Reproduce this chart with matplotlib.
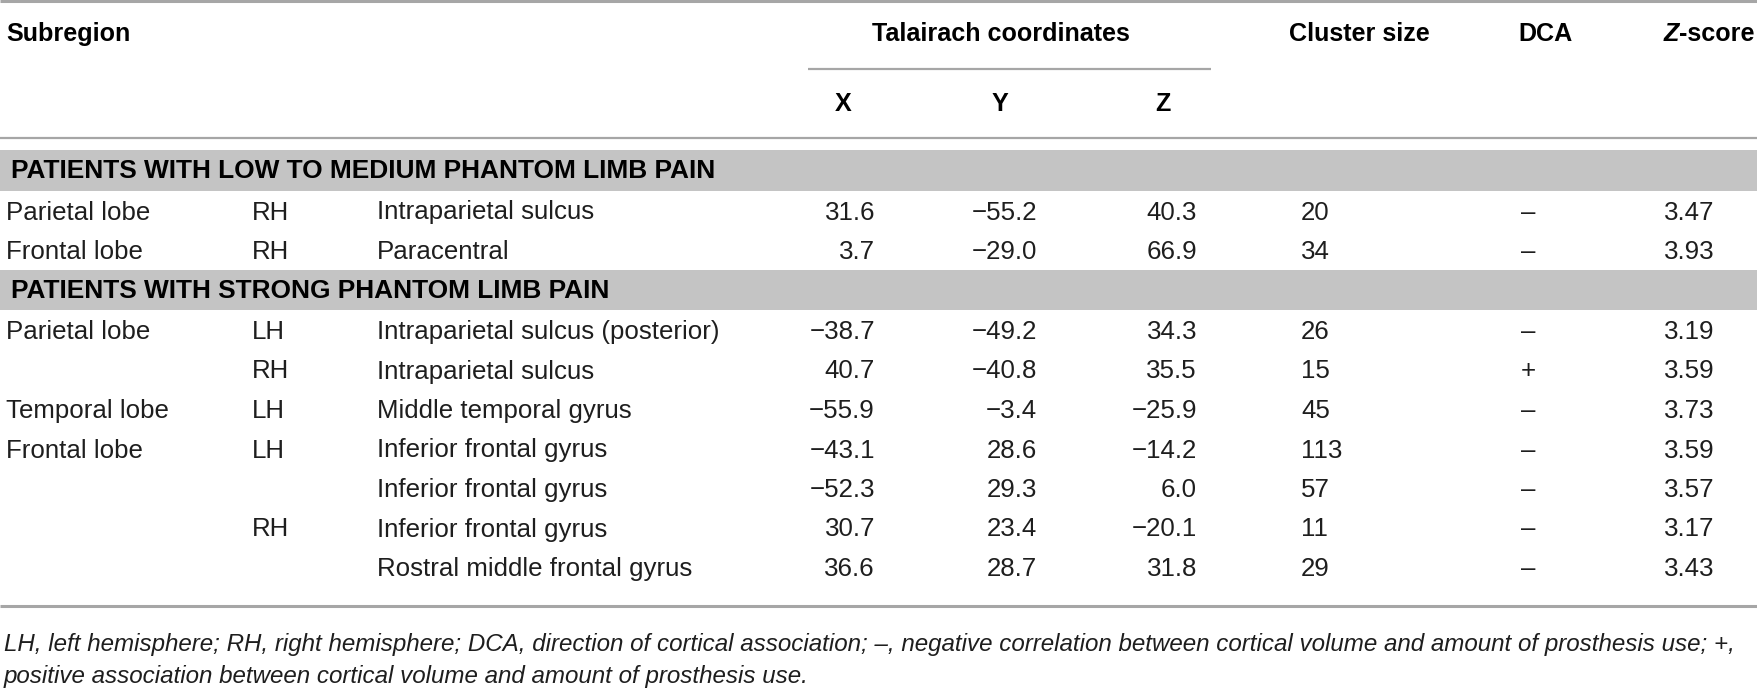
import matplotlib
matplotlib.use('Agg')
import matplotlib.pyplot as plt
from matplotlib.patches import Rectangle

# table content
group_titles = ['PATIENTS WITH LOW TO MEDIUM PHANTOM LIMB PAIN',
                'PATIENTS WITH STRONG PHANTOM LIMB PAIN']
group_of_row = [0, 0, 1, 1, 1, 1, 1, 1, 1]
subregion = ['Parietal lobe', 'Frontal lobe', 'Parietal lobe', '', 'Temporal lobe',
             'Frontal lobe', '', '', '']
hemisphere = ['RH', 'RH', 'LH', 'RH', 'LH', 'LH', '', 'RH', '']
area = ['Intraparietal sulcus', 'Paracentral', 'Intraparietal sulcus (posterior)',
        'Intraparietal sulcus', 'Middle temporal gyrus', 'Inferior frontal gyrus',
        'Inferior frontal gyrus', 'Inferior frontal gyrus', 'Rostral middle frontal gyrus']
x_coord = [31.6, 3.7, -38.7, 40.7, -55.9, -43.1, -52.3, 30.7, 36.6]
y_coord = [-55.2, -29.0, -49.2, -40.8, -3.4, 28.6, 29.3, 23.4, 28.7]
z_coord = [40.3, 66.9, 34.3, 35.5, -25.9, -14.2, 6.0, -20.1, 31.8]
cluster_size = [20, 34, 26, 15, 45, 113, 57, 11, 29]
dca = ['\u2013', '\u2013', '\u2013', '+', '\u2013', '\u2013', '\u2013', '\u2013', '\u2013']
z_score = [3.47, 3.93, 3.19, 3.59, 3.73, 3.59, 3.57, 3.17, 3.43]

footnote = ['LH, left hemisphere; RH, right hemisphere; DCA, direction of cortical association; \u2013, '
            'negative correlation between cortical volume and amount of prosthesis use; +,',
            'positive association between cortical volume and amount of prosthesis use.']

W, H = 1757, 690
plt.rcParams['font.family'] = ['Liberation Sans', 'DejaVu Sans']
TXT = '#1e1e1e'
RULE = '#a6a6a6'
BAND = '#c4c4c4'
FS_BODY = 18.6
FS_HEAD = 18.1
FS_BAND = 18.9
FS_NOTE = 17.4


def fmt(v):
    return ('%.1f' % v).replace('-', '\u2212')


fig = plt.figure(figsize=(W / 100, H / 100), dpi=100)
ax = fig.add_axes([0, 0, 1, 1])
ax.set_xlim(0, W)
ax.set_ylim(H, 0)
ax.axis('off')

# rules
ax.plot([0, W], [1, 1], color=RULE, lw=2.2, solid_capstyle='butt')
ax.plot([808, 1211], [69, 69], color=RULE, lw=1.6, solid_capstyle='butt')
ax.plot([0, W], [138, 138], color=RULE, lw=1.6, solid_capstyle='butt')
ax.plot([0, W], [606, 606], color=RULE, lw=2.2, solid_capstyle='butt')

# header
hd = dict(fontsize=FS_HEAD, fontweight='bold', color='black', va='baseline')
ax.text(6, 41, 'Subregion', ha='left', **hd)
ax.text(1001, 41, 'Talairach coordinates', ha='center', **hd)
ax.text(1289, 41, 'Cluster size', ha='left', **hd)
ax.text(1546, 41, 'DCA', ha='center', **hd)
zt = ax.text(1664, 41, 'Z', ha='left', style='italic', **hd)
ax.annotate('-score', xy=(1, 0), xycoords=zt, ha='left', va='bottom',
            fontsize=FS_HEAD, fontweight='bold', color='black')
for lab, xc in zip(['X', 'Y', 'Z'], [843, 1000, 1163]):
    ax.text(xc, 111, lab, ha='center', **hd)

# body
bd = dict(fontsize=FS_BODY, color=TXT, va='baseline')
top = 150
band_h = 40.5
row_h = 39.5
current = None
for i in range(len(area)):
    g = group_of_row[i]
    if g != current:
        ax.add_patch(Rectangle((0, top), W, band_h, facecolor=BAND, edgecolor='none'))
        ax.text(11, top + 28, group_titles[g], ha='left', fontsize=FS_BAND, fontweight='bold',
                color='black', va='baseline')
        top += band_h
        current = g
    base = top + 29
    ax.text(6, base, subregion[i], ha='left', **bd)
    ax.text(252, base, hemisphere[i], ha='left', **bd)
    ax.text(377, base, area[i], ha='left', **bd)
    ax.text(875, base, fmt(x_coord[i]), ha='right', **bd)
    ax.text(1037, base, fmt(y_coord[i]), ha='right', **bd)
    ax.text(1197, base, fmt(z_coord[i]), ha='right', **bd)
    ax.text(1301, base, str(cluster_size[i]), ha='left', **bd)
    ax.text(1528, base, dca[i], ha='center', **bd)
    ax.text(1664, base, '%.2f' % z_score[i], ha='left', **bd)
    top += row_h

# footnote
for k, line in enumerate(footnote):
    ax.text(4, 651 + 32 * k, line, ha='left', fontsize=FS_NOTE, style='italic',
            color=TXT, va='baseline')

fig.savefig('out.png', dpi=100)
